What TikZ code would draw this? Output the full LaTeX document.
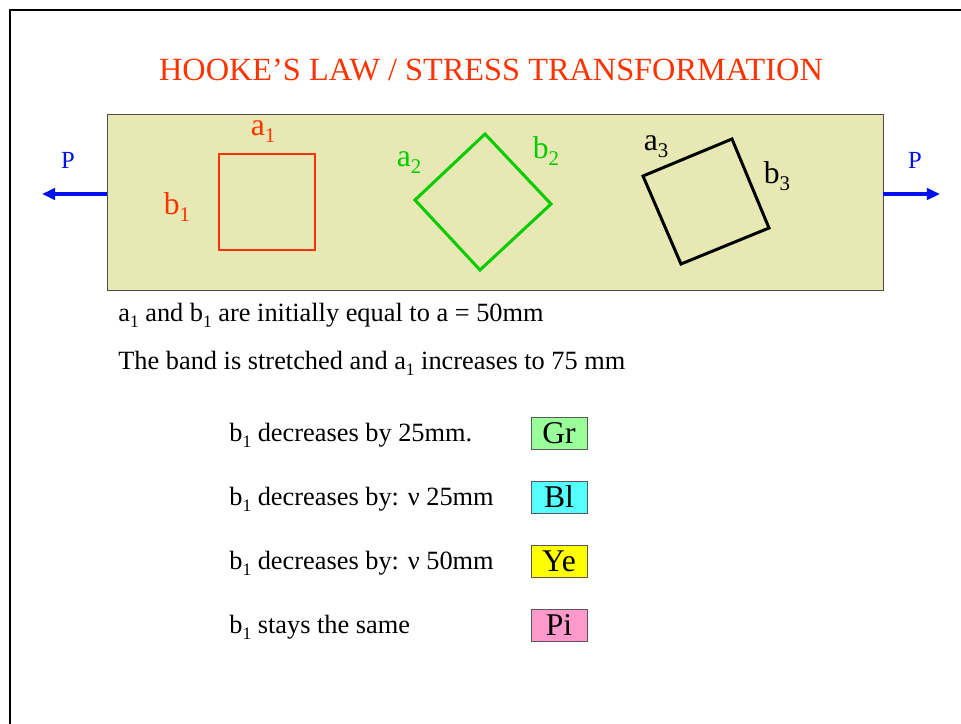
\documentclass[tikz,border=0pt]{standalone}
\usepackage{fontspec}
\setmainfont{Liberation Serif}
\usetikzlibrary{arrows.meta,positioning}
\definecolor{titlered}{HTML}{FF3300}
\definecolor{bandfill}{HTML}{E8E8B4}
\definecolor{sqgreen}{HTML}{00CC00}
\definecolor{pblue}{HTML}{0011EE}
\definecolor{boxgr}{HTML}{99FF99}
\definecolor{boxbl}{HTML}{55FFFF}
\definecolor{boxye}{HTML}{FFFF00}
\definecolor{boxpi}{HTML}{FF99CC}
\newcommand{\lsub}[1]{\raisebox{-0.24em}{\scalebox{0.66}{#1}}}

\begin{document}
\begin{tikzpicture}[x=0.02cm, y=-0.02cm,
  lbl/.style={anchor=base, inner sep=0pt, font=\fontsize{18}{20}\selectfont},
  body/.style={anchor=base west, inner sep=0pt, font=\fontsize{15}{18}\selectfont},
  ans/.style={draw=black!65, fill=#1, minimum width=1.12cm, minimum height=0.64cm, inner sep=0pt, font=\fontsize{18}{20}\selectfont},
  elem/.style={line width=1.7pt, line join=miter},
  parr/.style={-{Triangle[length=7.5pt,width=6.5pt]}, pblue, line width=2.2pt}
]
  \useasboundingbox (0,0) rectangle (961,724);
  % slide frame
  \draw[line width=1.6pt] (10,724) -- (10,10) -- (961,10);

  \node[anchor=base, inner sep=0pt, text=titlered, font=\fontsize{18.4}{20}\selectfont]
    (title) at (491,80) {HOOKE’S LAW / STRESS TRANSFORMATION};

  % the band
  \node[draw=black!70, fill=bandfill, minimum width=15.52cm, minimum height=3.52cm, inner sep=0pt]
    (band) at (495,202) {};

  % element 1
  \draw[elem, titlered] (219,154) rectangle (315,250);
  \node[lbl, text=titlered] (a1) at (263,135) {a\lsub{1}};
  \node[lbl, text=titlered] (b1) at (177,214) {b\lsub{1}};
  % element 2
  \draw[elem, sqgreen] (485,134) -- (551,204) -- (480,270) -- (415,200) -- cycle;
  \node[lbl, text=sqgreen] (a2) at (409,166) {a\lsub{2}};
  \node[lbl, text=sqgreen] (b2) at (546,158) {b\lsub{2}};
  % element 3
  \draw[elem] (643,176) -- (732,139) -- (769,228) -- (681,264) -- cycle;
  \node[lbl] (a3) at (656,150) {a\lsub{3}};
  \node[lbl] (b3) at (777,183) {b\lsub{3}};

  % loads
  \coordinate (pl) at (42,194);
  \coordinate (pr) at (940,194);
  \draw[parr] (band.west |- pl) -- (pl);
  \draw[parr] (band.east |- pr) -- (pr);
  \node[anchor=base, inner sep=0pt, text=pblue, font=\fontsize{14}{16}\selectfont] (pleft) at (68,168) {P};
  \node[anchor=base, inner sep=0pt, text=pblue, font=\fontsize{14}{16}\selectfont] (pright) at (915,168) {P};

  \node[body] (line1) at (118,321) {a\lsub{1} and b\lsub{1} are initially equal to a = 50mm};
  \node[body] (line2) at (118,369) {The band is stretched and a\lsub{1} increases to 75 mm};

  % choices
  \foreach \txt/\lab/\col/\yy in {{b\lsub{1} decreases by 25mm.}/Gr/boxgr/433,
                                   {b\lsub{1} decreases by: ν 25mm}/Bl/boxbl/497,
                                   {b\lsub{1} decreases by: ν 50mm}/Ye/boxye/561,
                                   {b\lsub{1} stays the same}/Pi/boxpi/625}{
    \node[body] (c\lab) at (229,\yy+8) {\txt};
    \node[ans=\col] (box\lab) at (559,\yy) {\lab};
  }
\end{tikzpicture}
\end{document}
